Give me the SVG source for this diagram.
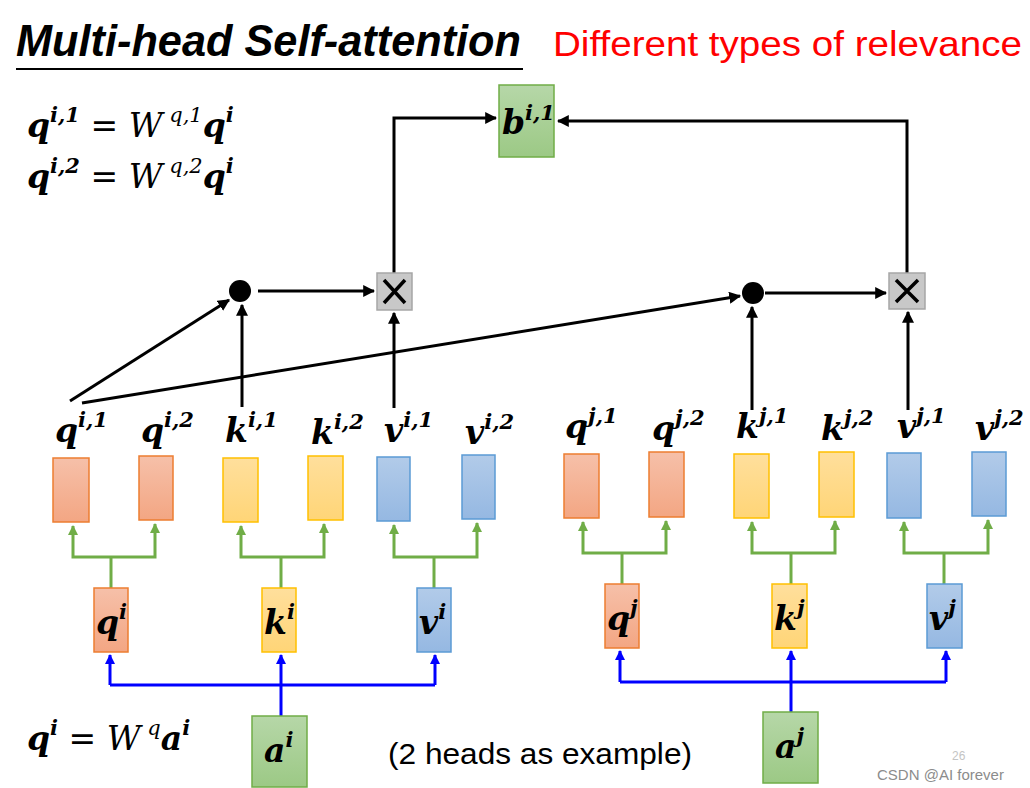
<svg xmlns="http://www.w3.org/2000/svg" width="1030" height="788" viewBox="0 0 1030 788">
<style>
.title{font-family:"Liberation Sans",Arial,sans-serif;font-weight:bold;font-style:italic;font-size:44px;fill:#000}
.red{font-family:"Liberation Sans",Arial,sans-serif;font-size:35px;fill:#ff0000}
.note{font-family:"Liberation Sans",Arial,sans-serif;font-size:29px;fill:#000}
.wm{font-family:"Liberation Sans",Arial,sans-serif;font-size:15px;fill:#8c8c8c}
.wm2{font-family:"Liberation Sans",Arial,sans-serif;font-size:12px;fill:#c4c4c4}
.m{font-family:"DejaVu Serif","Liberation Serif",serif;font-size:33px;fill:#000}
.b{font-weight:bold;font-style:italic}
.s{font-weight:bold;font-style:italic;font-size:21px}
.sn{font-style:italic;font-size:21px}
.it{font-style:italic}
.k{stroke:#000;stroke-width:3;fill:none}
.g{stroke:#70ad47;stroke-width:3;fill:none}
.bl{stroke:#0000ff;stroke-width:3;fill:none}
.or{fill:url(#gOr);stroke:#ed7d31;stroke-width:1.5}
.ye{fill:url(#gYe);stroke:#ffc000;stroke-width:1.5}
.bu{fill:url(#gBu);stroke:#5b9bd5;stroke-width:1.5}
.gr{fill:url(#gGr);stroke:#70ad47;stroke-width:1.5}
.x{fill:#c8c8c8;stroke:#a6a6a6;stroke-width:1.5}
</style>
<defs>
<linearGradient id="gOr" x1="0" y1="0" x2="0" y2="1"><stop offset="0" stop-color="#f6c0a9"/><stop offset="1" stop-color="#f3a683"/></linearGradient>
<linearGradient id="gYe" x1="0" y1="0" x2="0" y2="1"><stop offset="0" stop-color="#ffdf9c"/><stop offset="1" stop-color="#ffd577"/></linearGradient>
<linearGradient id="gBu" x1="0" y1="0" x2="0" y2="1"><stop offset="0" stop-color="#b2cbe9"/><stop offset="1" stop-color="#95b8e2"/></linearGradient>
<linearGradient id="gGr" x1="0" y1="0" x2="0" y2="1"><stop offset="0" stop-color="#b6d7a8"/><stop offset="1" stop-color="#9cc985"/></linearGradient>
<marker id="ak" viewBox="0 0 10 10" refX="9" refY="5" markerWidth="4" markerHeight="4" orient="auto"><path d="M0,0 L10,5 L0,10 z" fill="#000"/></marker>
<marker id="ag" viewBox="0 0 10 10" refX="9" refY="5" markerWidth="3.5" markerHeight="3.5" orient="auto"><path d="M0,0 L10,5 L0,10 z" fill="#70ad47"/></marker>
<marker id="ab" viewBox="0 0 10 10" refX="9" refY="5" markerWidth="3.5" markerHeight="3.5" orient="auto"><path d="M0,0 L10,5 L0,10 z" fill="#0000ff"/></marker>
</defs>
<rect width="1030" height="788" fill="#fff"/>

<g id="title">
<text class="title" x="16" y="56" textLength="505" lengthAdjust="spacingAndGlyphs">Multi-head Self-attention</text>
<line x1="16" y1="69" x2="523" y2="69" stroke="#000" stroke-width="2"/>
<text class="red" x="553" y="56" textLength="469" lengthAdjust="spacingAndGlyphs">Different types of relevance</text>
</g>

<g id="equations">
<text class="m" x="27" y="137"><tspan class="b">q</tspan><tspan class="s" dy="-15">i,1</tspan><tspan dy="15"> = </tspan><tspan class="it">W</tspan><tspan class="sn" dy="-15"> q,1</tspan><tspan class="b" dy="15">q</tspan><tspan class="s" dy="-15">i</tspan></text>
<text class="m" x="27" y="188"><tspan class="b">q</tspan><tspan class="s" dy="-15">i,2</tspan><tspan dy="15"> = </tspan><tspan class="it">W</tspan><tspan class="sn" dy="-15"> q,2</tspan><tspan class="b" dy="15">q</tspan><tspan class="s" dy="-15">i</tspan></text>
<text class="m" x="27" y="750"><tspan class="b">q</tspan><tspan class="s" dy="-15">i</tspan><tspan dy="15"> = </tspan><tspan class="it">W</tspan><tspan class="sn" dy="-15"> q</tspan><tspan class="b" dy="15">a</tspan><tspan class="s" dy="-15">i</tspan></text>
</g>

<g id="connectors">
<path class="k" d="M394,273 V118 H496" marker-end="url(#ak)"/>
<path class="k" d="M907,273 V121 H558" marker-end="url(#ak)"/>
<path class="k" d="M258,291 H374" marker-end="url(#ak)"/>
<path class="k" d="M765,293 H886" marker-end="url(#ak)"/>
<path class="k" d="M70,401 L229,300" marker-end="url(#ak)"/>
<path class="k" d="M82,403 L740,296" marker-end="url(#ak)"/>
<path class="k" d="M242,407 V305" marker-end="url(#ak)"/>
<path class="k" d="M394,408 V313" marker-end="url(#ak)"/>
<path class="k" d="M752,410 V307" marker-end="url(#ak)"/>
<path class="k" d="M908,410 V312" marker-end="url(#ak)"/>

<path class="g" d="M111,588 V557"/>
<path class="g" d="M111,557 H73 V526" marker-end="url(#ag)"/>
<path class="g" d="M111,557 H155 V524" marker-end="url(#ag)"/>
<path class="g" d="M281,588 V557"/>
<path class="g" d="M281,557 H241 V526" marker-end="url(#ag)"/>
<path class="g" d="M281,557 H324 V524" marker-end="url(#ag)"/>
<path class="g" d="M434,588 V557"/>
<path class="g" d="M434,557 H394 V525" marker-end="url(#ag)"/>
<path class="g" d="M434,557 H477 V523" marker-end="url(#ag)"/>

<path class="g" d="M622,584 V553"/>
<path class="g" d="M622,553 H583 V522" marker-end="url(#ag)"/>
<path class="g" d="M622,553 H666 V521" marker-end="url(#ag)"/>
<path class="g" d="M791,584 V553"/>
<path class="g" d="M791,553 H752 V522" marker-end="url(#ag)"/>
<path class="g" d="M791,553 H835 V521" marker-end="url(#ag)"/>
<path class="g" d="M944,584 V553"/>
<path class="g" d="M944,553 H904 V522" marker-end="url(#ag)"/>
<path class="g" d="M944,553 H988 V520" marker-end="url(#ag)"/>

<path class="bl" d="M110,685 H435"/>
<path class="bl" d="M281,716 V655" marker-end="url(#ab)"/>
<path class="bl" d="M110,685 V655" marker-end="url(#ab)"/>
<path class="bl" d="M435,685 V655" marker-end="url(#ab)"/>
<path class="bl" d="M620,682 H946"/>
<path class="bl" d="M791,712 V651" marker-end="url(#ab)"/>
<path class="bl" d="M620,682 V651" marker-end="url(#ab)"/>
<path class="bl" d="M946,682 V651" marker-end="url(#ab)"/>
</g>

<g id="b_i1"><rect class="gr" x="499" y="85" width="55" height="72"/>
<text class="m" x="502" y="134"><tspan class="b">b</tspan><tspan class="s" dy="-14">i,1</tspan></text></g>
<g id="dot1"><circle cx="240" cy="291" r="11" fill="#000"/></g>
<g id="dot2"><circle cx="753" cy="293" r="11" fill="#000"/></g>
<g id="mul1"><rect class="x" x="377" y="273" width="35" height="37"/><path d="M384,280 L405,303 M405,280 L384,303" stroke="#000" stroke-width="3.5"/></g>
<g id="mul2"><rect class="x" x="889" y="273" width="36" height="36"/><path d="M896,280 L918,302 M918,280 L896,302" stroke="#000" stroke-width="3.5"/></g>

<g id="qi1"><rect class="or" x="53" y="458" width="36" height="64"/><text class="m" x="55" y="442"><tspan class="b">q</tspan><tspan class="s" dy="-15">i,1</tspan></text></g>
<g id="qi2"><rect class="or" x="139" y="456" width="34" height="64"/><text class="m" x="141" y="442"><tspan class="b">q</tspan><tspan class="s" dy="-15">i,2</tspan></text></g>
<g id="ki1"><rect class="ye" x="223" y="458" width="35" height="64"/><text class="m" x="225" y="442"><tspan class="b">k</tspan><tspan class="s" dy="-15">i,1</tspan></text></g>
<g id="ki2"><rect class="ye" x="308" y="456" width="35" height="64"/><text class="m" x="311" y="444"><tspan class="b">k</tspan><tspan class="s" dy="-15">i,2</tspan></text></g>
<g id="vi1"><rect class="bu" x="377" y="457" width="33" height="64"/><text class="m" x="384" y="442"><tspan class="b">v</tspan><tspan class="s" dy="-15">i,1</tspan></text></g>
<g id="vi2"><rect class="bu" x="462" y="455" width="33" height="64"/><text class="m" x="465" y="444"><tspan class="b">v</tspan><tspan class="s" dy="-15">i,2</tspan></text></g>

<g id="qj1"><rect class="or" x="564" y="454" width="35" height="64"/><text class="m" x="565" y="438"><tspan class="b">q</tspan><tspan class="s" dy="-15">j,1</tspan></text></g>
<g id="qj2"><rect class="or" x="649" y="452" width="35" height="65"/><text class="m" x="652" y="440"><tspan class="b">q</tspan><tspan class="s" dy="-15">j,2</tspan></text></g>
<g id="kj1"><rect class="ye" x="734" y="454" width="35" height="64"/><text class="m" x="736" y="438"><tspan class="b">k</tspan><tspan class="s" dy="-15">j,1</tspan></text></g>
<g id="kj2"><rect class="ye" x="819" y="452" width="35" height="65"/><text class="m" x="821" y="440"><tspan class="b">k</tspan><tspan class="s" dy="-15">j,2</tspan></text></g>
<g id="vj1"><rect class="bu" x="887" y="453" width="34" height="65"/><text class="m" x="897" y="438"><tspan class="b">v</tspan><tspan class="s" dy="-15">j,1</tspan></text></g>
<g id="vj2"><rect class="bu" x="972" y="452" width="34" height="64"/><text class="m" x="975" y="440"><tspan class="b">v</tspan><tspan class="s" dy="-15">j,2</tspan></text></g>

<g id="qi"><rect class="or" x="94" y="588" width="34" height="64"/><text class="m" x="96" y="634"><tspan class="b">q</tspan><tspan class="s" dy="-15">i</tspan></text></g>
<g id="ki"><rect class="ye" x="262" y="588" width="34" height="64"/><text class="m" x="264" y="634"><tspan class="b">k</tspan><tspan class="s" dy="-15">i</tspan></text></g>
<g id="vi"><rect class="bu" x="417" y="588" width="34" height="64"/><text class="m" x="419" y="634"><tspan class="b">v</tspan><tspan class="s" dy="-15">i</tspan></text></g>
<g id="qj"><rect class="or" x="605" y="584" width="34" height="64"/><text class="m" x="607" y="630"><tspan class="b">q</tspan><tspan class="s" dy="-15">j</tspan></text></g>
<g id="kj"><rect class="ye" x="772" y="584" width="35" height="64"/><text class="m" x="774" y="630"><tspan class="b">k</tspan><tspan class="s" dy="-15">j</tspan></text></g>
<g id="vj"><rect class="bu" x="927" y="584" width="35" height="64"/><text class="m" x="929" y="630"><tspan class="b">v</tspan><tspan class="s" dy="-15">j</tspan></text></g>

<g id="ai"><rect class="gr" x="252" y="716" width="55" height="71"/><text class="m" x="264" y="762"><tspan class="b">a</tspan><tspan class="s" dy="-15">i</tspan></text></g>
<g id="aj"><rect class="gr" x="763" y="712" width="55" height="71"/><text class="m" x="775" y="758"><tspan class="b">a</tspan><tspan class="s" dy="-15">j</tspan></text></g>

<g id="notes">
<text class="note" x="388" y="764" textLength="304" lengthAdjust="spacingAndGlyphs">(2 heads as example)</text>
<text class="wm" x="877" y="780">CSDN @AI forever</text>
<text class="wm2" x="952" y="760">26</text>
</g>
</svg>
